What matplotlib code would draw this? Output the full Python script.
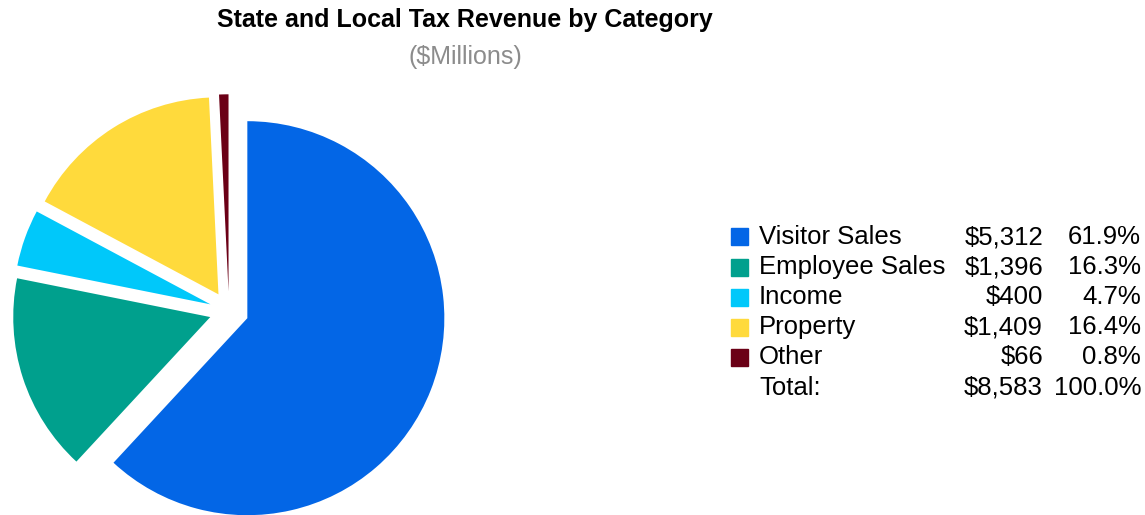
import matplotlib
matplotlib.use('Agg')
import matplotlib.pyplot as plt
from matplotlib.patches import Rectangle

plt.rcParams['font.family'] = ['Liberation Sans', 'DejaVu Sans']

# Data ($Millions)
categories = ['Visitor Sales', 'Employee Sales', 'Income', 'Property', 'Other']
values = [5312, 1396, 400, 1409, 66]
value_labels = ['$5,312', '$1,396', '$400', '$1,409', '$66']
pct_labels = ['61.9%', '16.3%', '4.7%', '16.4%', '0.8%']
total_label = '$8,583'
total_pct = '100.0%'
colors = ['#0366E6', '#00A08D', '#00C8FA', '#FFDA3C', '#6B0016']

W, H = 1145, 515
fig = plt.figure(figsize=(W / 100, H / 100), dpi=100)

# pie axes placed in pixels: centre (229, 311 from top), radius 197 px
r_px = 197
lim = 1.2
cx, cy = 229, H - 311
half = lim * r_px
ax = fig.add_axes([(cx - half) / W, (cy - half) / H, 2 * half / W, 2 * half / H])
ax.pie(values, colors=colors, startangle=90, counterclock=False,
       explode=[0.1] * len(values), radius=1,
       wedgeprops=dict(linewidth=0))
ax.set_xlim(-lim, lim)
ax.set_ylim(-lim, lim)
ax.set_aspect('equal')
ax.axis('off')

# titles
fig.text(465 / W, 1 - 20 / H, 'State and Local Tax Revenue by Category',
         ha='center', va='center', fontsize=18, fontweight='bold')
fig.text(465 / W, 1 - 57 / H, '($Millions)', ha='center', va='center',
         fontsize=18, color='#8c8c8c')

# legend table
fs = 18.5
row_y = [237, 267, 297, 327, 357]
for i, name in enumerate(categories):
    y = 1 - row_y[i] / H
    fig.patches.append(Rectangle((731 / W, y - 8.5 / H), 17 / W, 17 / H,
                                 transform=fig.transFigure, color=colors[i]))
    fig.text(759 / W, y, name, ha='left', va='center', fontsize=fs)
    fig.text(1043 / W, y, value_labels[i], ha='right', va='center', fontsize=fs)
    fig.text(1141 / W, y, pct_labels[i], ha='right', va='center', fontsize=fs)

y = 1 - 388 / H
fig.text(759 / W, y, 'Total:', ha='left', va='center', fontsize=fs)
fig.text(1043 / W, y, total_label, ha='right', va='center', fontsize=fs)
fig.text(1141 / W, y, total_pct, ha='right', va='center', fontsize=fs)

fig.savefig('out.png', dpi=100)
